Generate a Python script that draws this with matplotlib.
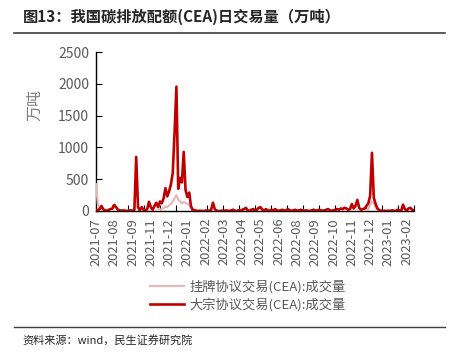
import matplotlib
matplotlib.use("Agg")
import matplotlib.pyplot as plt
import numpy as np

plt.rcParams['font.family'] = ['Noto Sans CJK SC', 'DejaVu Sans']

tick_labels = ["2021-07", "2021-08", "2021-09", "2021-11", "2021-12", "2022-01",
               "2022-02", "2022-03", "2022-04", "2022-05", "2022-06", "2022-08",
               "2022-09", "2022-10", "2022-11", "2022-12", "2023-01", "2023-02"]

listed_volume = [
    420, 120, 10, 0, 0, 0, 0, 0, 0, 0,
    0, 0, 0, 0, 0, 0, 0, 0, 0, 0,
    0, 0, 0, 0, 0, 0, 0, 0, 0, 0,
    0, 0, 0, 0, 10, 20, 30, 50, 70, 60,
    90, 110, 150, 200, 250, 180, 150, 120, 140, 130,
    110, 100, 40, 10, 0, 0, 0, 0, 0, 0,
    0, 0, 0, 0, 0, 0, 0, 0, 0, 0,
    0, 0, 0, 0, 0, 0, 0, 0, 0, 0,
    0, 0, 0, 0, 0, 0, 0, 0, 0, 0,
    0, 0, 0, 0, 0, 0, 0, 0, 0, 0,
    0, 0, 0, 0, 0, 0, 0, 0, 0, 0,
    0, 0, 0, 0, 0, 0, 0, 0, 0, 0,
    0, 0, 0, 0, 0, 0, 0, 0, 0, 0,
    0, 0, 0, 0, 0, 0, 0, 0, 0, 0,
    0, 0, 0, 10, 0, 0, 0, 10, 20, 30,
    100, 150, 120, 60, 20, 5, 0, 0, 0, 0,
    0, 0, 0, 0, 0, 0, 0, 0, 0, 0,
    0, 0, 0, 0, 0,
]

block_volume = [
    20, 10, 30, 80, 25, 10, 5, 20, 30, 40,
    95, 60, 20, 10, 5, 10, 5, 0, 5, 10,
    5, 20, 850, 60, 10, 60, 20, 10, 30, 145,
    60, 20, 80, 130, 60, 150, 120, 200, 360, 230,
    310, 420, 600, 1240, 1955, 350, 520, 450, 930, 330,
    220, 290, 70, 20, 10, 5, 0, 5, 0, 0,
    5, 10, 0, 20, 130, 30, 5, 0, 0, 5,
    0, 10, 5, 0, 10, 20, 5, 0, 10, 5,
    20, 30, 50, 10, 5, 20, 30, 10, 20, 50,
    60, 20, 10, 30, 10, 5, 20, 10, 30, 10,
    5, 10, 20, 5, 10, 30, 10, 5, 10, 20,
    5, 10, 20, 10, 5, 10, 5, 0, 10, 20,
    10, 5, 20, 10, 5, 10, 20, 30, 10, 5,
    10, 20, 30, 20, 40, 30, 50, 40, 20, 30,
    110, 40, 80, 175, 50, 20, 30, 40, 80, 120,
    240, 915, 210, 110, 40, 10, 5, 0, 5, 0,
    5, 0, 10, 5, 0, 20, 10, 5, 100, 30,
    10, 40, 50, 20, 10,
]

series_names = ["挂牌协议交易(CEA):成交量", "大宗协议交易(CEA):成交量"]

fig = plt.figure(figsize=(4.54, 3.58), dpi=100)
ax = fig.add_axes([96/454, 1-211/358, 318/454, 159/358])

x = np.arange(len(block_volume))
ax.plot(x, listed_volume, color="#E6B9B8", lw=1.6, label=series_names[0], zorder=3)
ax.plot(x, block_volume, color="#C00000", lw=1.9, label=series_names[1], zorder=4)

n = len(block_volume)
ax.set_xlim(0, n - 1)
ax.set_ylim(0, 2500)
ax.set_yticks(np.arange(0, 2501, 500))
ax.set_xticks(np.arange(len(tick_labels)) * 10)
ax.set_xticklabels(tick_labels, rotation=90)
ax.set_xticks(np.linspace(0, n - 1, 21), minor=True)

for s in ["top", "right"]:
    ax.spines[s].set_visible(False)
for s in ["left", "bottom"]:
    ax.spines[s].set_color("black")
    ax.spines[s].set_linewidth(1.0)

ax.tick_params(axis="y", direction="in", length=4, width=0.8, colors="black",
               labelcolor="#595959", labelsize=10, pad=5)
ax.tick_params(axis="x", which="major", length=0, labelcolor="#595959", labelsize=9.3, pad=5)
ax.tick_params(axis="x", which="minor", direction="in", length=4, width=0.8, colors="black")

ax.set_ylabel("万吨", color="#7F7F7F", fontsize=11.5, labelpad=2)
ax.yaxis.set_label_coords(-0.165, 0.665)

fig.text(23/454, 1-17/358, "图13：我国碳排放配额(CEA)日交易量（万吨）", fontsize=11,
         fontweight="bold", color="#262626", va="center", ha="left")
fig.add_artist(plt.Line2D([14/454, 445/454], [1-33/358, 1-33/358], color="#404040", lw=1.2))
fig.add_artist(plt.Line2D([14/454, 445/454], [1-327/358, 1-327/358], color="#404040", lw=1.0))
fig.text(22/454, 1-340/358, "资料来源：wind，民生证券研究院", fontsize=8, color="#262626",
         va="center", ha="left")

leg = fig.legend(loc="center", bbox_to_anchor=(248/454, 1-296/358), frameon=False,
                 fontsize=9.5, handlelength=2.6, handletextpad=0.4, labelspacing=0.35)
for t in leg.get_texts():
    t.set_color("#595959")

fig.savefig("out.png", dpi=100)
